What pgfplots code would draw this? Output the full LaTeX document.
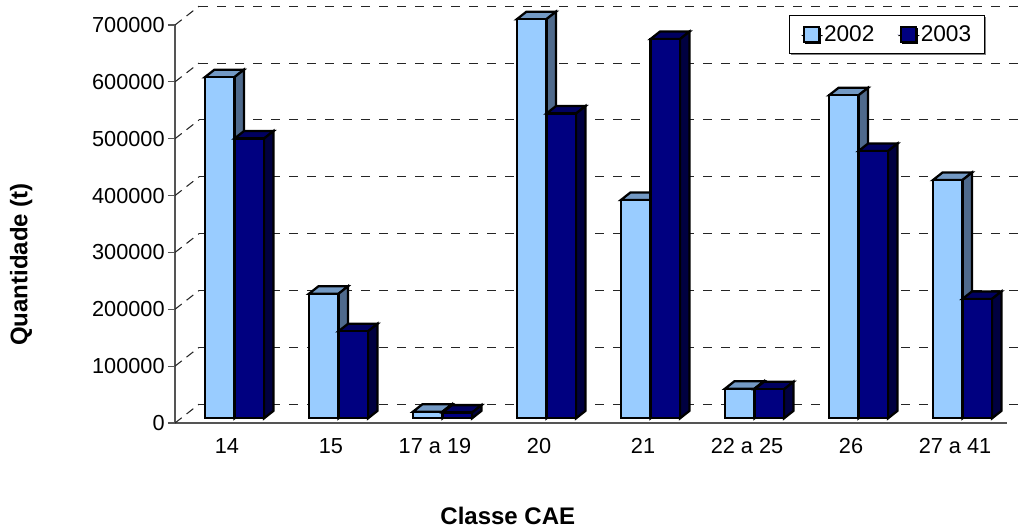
\documentclass[border=0pt]{standalone}
\usepackage{fontspec}
\setmainfont{Liberation Sans}
\usepackage{pgfplots}
\pgfplotsset{compat=1.18}
\usetikzlibrary{shadows}

\definecolor{lightf}{HTML}{99CCFF}
\definecolor{lights}{HTML}{4F6A8C}
\definecolor{lightt}{HTML}{7399C4}
\definecolor{darkf}{HTML}{000080}
\definecolor{darks}{HTML}{000040}
\definecolor{darkt}{HTML}{000060}
\definecolor{axisgray}{HTML}{555555}

% one bar: left edge, value, front/side/top colours
\newcommand{\bartd}[5]{%
  \pgfmathsetmacro\xa{#1}%
  \pgfmathsetmacro\xb{#1+0.284}%
  \pgfmathsetmacro\xc{#1+0.284+0.0913}%
  \pgfmathsetmacro\xd{#1+0.0913}%
  \edef\ya{\the\numexpr 8260\relax}%
  \edef\yb{\the\numexpr #2+8260\relax}%
  \edef\yc{\the\numexpr #2+8260+13180\relax}%
  \edef\yd{\the\numexpr 8260+13180\relax}%
  \addplot[forget plot,draw=black,fill=#5,line width=1.7pt,line join=miter] coordinates {(\xa,\yb) (\xd,\yc) (\xc,\yc) (\xb,\yb)} --cycle;
  \addplot[forget plot,draw=black,fill=#4,line width=1.7pt,line join=miter] coordinates {(\xb,\ya) (\xc,\yd) (\xc,\yc) (\xb,\yb)} --cycle;
  \addplot[forget plot,draw=black,fill=#3,line width=1.7pt,line join=miter] coordinates {(\xa,\ya) (\xb,\ya) (\xb,\yb) (\xa,\yb)} --cycle;
}
% one category: position, 2002, 2003
\newcommand{\catbars}[3]{%
  \bartd{#1+0.288}{#2}{lightf}{lights}{lightt}%
  \bartd{#1+0.572}{#3}{darkf}{darks}{darkt}%
}
% back wall gridline and the diagonal from the tick to it
\newcommand{\wall}[1]{%
  \edef\yw{\the\numexpr #1+33000\relax}%
  \addplot[forget plot,black!85,line width=0.8pt,dash pattern=on 7pt off 6.5pt] coordinates {(0.231,\yw) (8.192,\yw)};
  \addplot[forget plot,black!85,line width=0.8pt,dash pattern=on 6.4pt off 4.6pt] coordinates {(0,#1) (0.231,\yw)};
}

\begin{document}
\begin{tikzpicture}[x=0.75pt,y=0.75pt]
  \path[use as bounding box] (-175,-107) rectangle (852,423);
  \begin{axis}[
      scale only axis,
      width=624pt, height=298.5pt,
      xmin=0, xmax=8, ymin=0, ymax=700000,
      clip=false,
      axis x line*=bottom, axis y line*=left,
      axis line style={-,axisgray,line width=0.8pt},
      tick align=outside,
      major tick length=5.25pt,
      minor tick length=5.25pt,
      tick style={axisgray,line width=0.8pt},
      xtick={0.5,1.5,2.5,3.5,4.5,5.5,6.5,7.5},
      xticklabels={14,15,17 a 19,20,21,22 a 25,26,27 a 41},
      x tick style={draw=none},
      minor xtick={0,1,2,3,4,5,6,7,8},
      minor x tick style={axisgray,line width=0.8pt},
      ytick={0,100000,200000,300000,400000,500000,600000,700000},
      scaled y ticks=false,
      /pgf/number format/assume math mode=true,
      yticklabel style={/pgf/number format/fixed,/pgf/number format/1000 sep={},xshift=1pt},
      tick label style={font=\fontsize{16.3pt}{18pt}\selectfont},
      xticklabel style={yshift=-3pt},
      label style={font=\fontsize{18pt}{20pt}\selectfont\bfseries},
      xlabel={Classe CAE},
      xlabel style={at={(axis cs:3.2,-163400)},anchor=center},
      ylabel={Quantidade (t)},
      ylabel style={at={(axis cs:-1.48,279000)},anchor=center,rotate=0},
      legend columns=2,
      legend cell align=left,
      legend style={at={(0.9736,1.0251)},anchor=north east,draw=black,fill=white,
        line width=0.75pt,
        general shadow={shadow xshift=1pt,shadow yshift=-1pt,fill=gray},
        font=\fontsize{17pt}{19pt}\selectfont,
        inner xsep=8pt,inner ysep=5.5pt,
        /tikz/every even column/.style={column sep=15pt}},
      legend image code/.code={
        \path[draw=none] (0pt,0pt) rectangle (15.75pt,0pt);
        \draw[#1,line width=1.7pt] (3pt,-5.5pt) rectangle (14.25pt,5.75pt);},
    ]
    \wall{0}\wall{100000}\wall{200000}\wall{300000}
    \wall{400000}\wall{500000}\wall{600000}\wall{700000}

    \catbars{0}{600000}{492000}
    \catbars{1}{219000}{153000}
    \catbars{2}{11600}{10000}
    \catbars{3}{702000}{536000}
    \catbars{4}{384000}{667000}
    \catbars{5}{52000}{51000}
    \catbars{6}{568000}{470000}
    \catbars{7}{419000}{210000}

    \addlegendimage{draw=black,fill=lightf}
    \addlegendentry{2002}
    \addlegendimage{draw=black,fill=darkf}
    \addlegendentry{2003}
  \end{axis}
\end{tikzpicture}
\end{document}
